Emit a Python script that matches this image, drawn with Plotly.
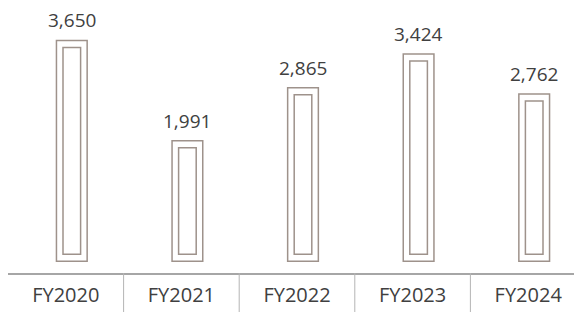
import plotly.graph_objects as go

categories = ["FY2020", "FY2021", "FY2022", "FY2023", "FY2024"]
values = [3650, 1991, 2865, 3424, 2762]
value_labels = ["3,650", "1,991", "2,865", "3,424", "2,762"]

W, H = 582, 312
ML, MR, MT, MB = 0, 4, 0, 47
plot_h = H - MT - MB
px_per_unit = 0.0605
zero_px_from_bottom = 11.8  # gap between axis line and bar base
y_min = -zero_px_from_bottom / px_per_unit
y_max = y_min + plot_h / px_per_unit

inset_units = 7 / px_per_unit
cat_px = (W - ML - MR) / len(categories)
shift = 6 / cat_px

outer_w = 30.7 / cat_px
inner_w = 17.6 / cat_px
line_col = "#9e928b"
text_col = "#404040"

fig = go.Figure()
fig.add_trace(go.Bar(
    x=categories, y=values, width=outer_w, offset=-outer_w / 2 + shift,
    marker=dict(color="white", line=dict(color=line_col, width=1.5)),
    hoverinfo="skip",
))
fig.add_trace(go.Bar(
    x=categories, y=[v - 2 * inset_units for v in values], base=inset_units,
    width=inner_w, offset=-inner_w / 2 + shift,
    marker=dict(color="white", line=dict(color=line_col, width=1.5)),
    hoverinfo="skip",
))

for c, v, t in zip(categories, values, value_labels):
    fig.add_annotation(x=c, y=v, text=t, showarrow=False, xanchor="center",
                       yanchor="bottom", yshift=6, xshift=6, borderpad=0,
                       font=dict(size=19, color=text_col, family="Open Sans"))

for i in range(1, len(categories)):
    fig.add_shape(type="line", xref="x", yref="paper", x0=i - 0.5, x1=i - 0.5,
                  y0=0, y1=-MB / plot_h - 0.05, line=dict(color="#b4b4b4", width=1))

fig.update_layout(
    width=W, height=H, margin=dict(l=ML, r=MR, t=MT, b=MB),
    barmode="overlay", showlegend=False,
    paper_bgcolor="white", plot_bgcolor="white",
    font=dict(family="Open Sans", size=20, color=text_col),
)
fig.update_xaxes(range=[-0.5, len(categories) - 0.5], showline=True, linecolor="#a6a6a6",
                 linewidth=2, ticks="", showgrid=False, zeroline=False, fixedrange=True,
                 ticklabelstandoff=3, automargin=False,
                 tickfont=dict(size=20, color=text_col, family="Open Sans"))
fig.update_yaxes(range=[y_min, y_max], visible=False, showgrid=False, zeroline=False)

fig.write_html("out.html", config={"displayModeBar": False})
